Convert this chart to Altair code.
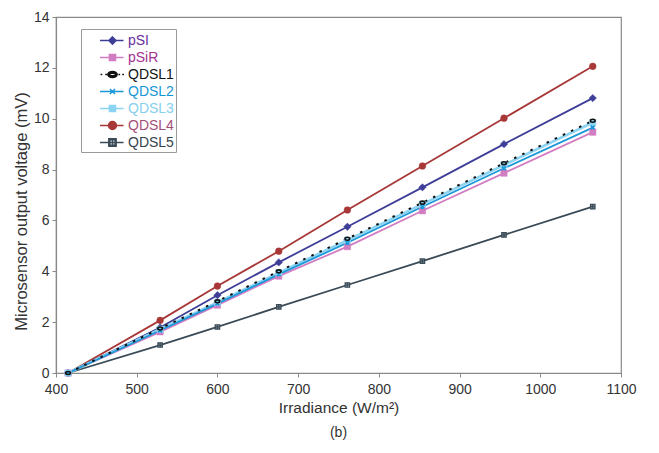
import altair as alt
import pandas as pd

irradiance = [415, 529, 600, 676, 761, 854, 955, 1065]
series_names = ["pSI", "pSiR", "QDSL1", "QDSL2", "QDSL3", "QDSL4", "QDSL5"]
pSI = [0, 1.79, 3.06, 4.35, 5.75, 7.30, 9.00, 10.81]
pSiR = [0, 1.62, 2.67, 3.81, 4.97, 6.38, 7.86, 9.47]
QDSL1 = [0, 1.75, 2.82, 4.00, 5.28, 6.70, 8.25, 9.92]
QDSL2 = [0, 1.67, 2.73, 3.88, 5.12, 6.54, 8.05, 9.65]
QDSL3 = [0, 1.72, 2.78, 3.95, 5.22, 6.64, 8.18, 9.85]
QDSL4 = [0, 2.07, 3.42, 4.79, 6.41, 8.14, 10.02, 12.06]
QDSL5 = [0, 1.10, 1.81, 2.60, 3.46, 4.40, 5.43, 6.54]

line_colors = ["#3E3E98", "#D27DC2", "#111111", "#1B98D8", "#8DD4F3", "#A83838", "#3A4A56"]
label_colors = ["#6A2E9C", "#A4308F", "#111111", "#1596D6", "#86CFF0", "#A34E79", "#34434E"]

values = [pSI, pSiR, QDSL1, QDSL2, QDSL3, QDSL4, QDSL5]
rows = []
for name, vals in zip(series_names, values):
    for xv, yv in zip(irradiance, vals):
        rows.append({"series": name, "irr": xv, "v": yv})
df = pd.DataFrame(rows)

FONT = "Liberation Sans"
xs = alt.Scale(domain=[400, 1100], nice=False)
ys = alt.Scale(domain=[0, 14], nice=False)
X = alt.X("irr:Q", scale=xs, title="Irradiance (W/m²)",
          axis=alt.Axis(values=list(range(400, 1101, 100)), format="d", labelFlush=False))
Y = alt.Y("v:Q", scale=ys, title="Microsensor output voltage (mV)",
          axis=alt.Axis(values=list(range(0, 15, 2)), format="d", labelFlush=False))

base = alt.Chart(df)

# chart marker shapes (unit space)
marker_shape = {
    "pSI": "diamond",
    "pSiR": "square",
    "QDSL1": "M-1,0A1,0.62,0,1,1,1,0A1,0.62,0,1,1,-1,0Z",
    "QDSL2": "M-1,-1L1,1M-1,1L1,-1M-0.6,0H0.6",
    "QDSL3": "square",
    "QDSL4": "circle",
    "QDSL5": "M-1,-1H1V1H-1ZM0,-1V1M-1,0H1",
}
marker_size = {"pSI": 55, "pSiR": 40, "QDSL1": 22, "QDSL2": 14, "QDSL3": 40, "QDSL4": 45, "QDSL5": 20}

draw_order = ["QDSL5", "QDSL4", "pSI", "pSiR", "QDSL3", "QDSL2", "QDSL1"]
layers = []
for name in draw_order:
    i = series_names.index(name)
    col = line_colors[i]
    sub = base.transform_filter(alt.datum.series == name)
    if name == "QDSL1":
        ln = sub.mark_line(color=col, strokeWidth=2, strokeDash=[2.5, 6.5]).encode(x=X, y=Y)
    elif name == "QDSL3":
        ln = sub.mark_line(color=col, strokeWidth=2.6).encode(x=X, y=Y)
    else:
        ln = sub.mark_line(color=col, strokeWidth=1.8).encode(x=X, y=Y)
    layers.append(ln)
for name in draw_order:
    i = series_names.index(name)
    col = line_colors[i]
    sub = base.transform_filter(alt.datum.series == name)
    if name == "QDSL1":
        pt = sub.mark_point(shape=marker_shape[name], size=marker_size[name], filled=False,
                            stroke=col, strokeWidth=1.6, opacity=1).encode(x=X, y=Y)
    elif name == "QDSL2":
        pt = sub.mark_point(shape=marker_shape[name], size=marker_size[name], filled=False,
                            stroke=col, strokeWidth=1.8, opacity=1).encode(x=X, y=Y)
    elif name == "QDSL5":
        pt = sub.mark_point(shape=marker_shape[name], size=marker_size[name], filled=True,
                            fill="#8E9DA6", stroke=col, strokeWidth=1.2, opacity=1).encode(x=X, y=Y)
    else:
        pt = sub.mark_point(shape=marker_shape[name], size=marker_size[name], filled=True,
                            fill=col, stroke=col, strokeWidth=0.5, opacity=1).encode(x=X, y=Y)
    layers.append(pt)

# legend symbols: line segment plus marker, in the legend symbol's unit space
LEG_SIZE = 289  # sqrt = 17 px -> 8.5 px per unit
L0, L1, MC = 0.88, 3.65, 2.35


def f(v):
    return f"{v:.3f}"


def rect(hw, hh, rev=False):
    a, b = MC - hw, MC + hw
    if not rev:
        return f"M{f(a)},{f(-hh)}H{f(b)}V{f(hh)}H{f(a)}Z"
    return f"M{f(a)},{f(-hh)}V{f(hh)}H{f(b)}V{f(-hh)}Z"


def ell(rx, ry, sweep=1):
    a, b = MC - rx, MC + rx
    return (f"M{f(a)},0A{f(rx)},{f(ry)},0,1,{sweep},{f(b)},0"
            f"A{f(rx)},{f(ry)},0,1,{sweep},{f(a)},0Z")


seg = f"M{f(L0)},0H{f(L1)}"
dots = "".join(f"M{f(d)},0H{f(d + 0.2)}" for d in [0.95, 1.5, 3.05, 3.5])
legend_paths = {
    "pSI": seg + f"M{f(MC)},-0.42L{f(MC + 0.42)},0L{f(MC)},0.42L{f(MC - 0.42)},0Z",
    "pSiR": seg + rect(0.36, 0.36),
    "QDSL1": dots + ell(0.55, 0.34, 1) + ell(0.36, 0.16, 0),
    "QDSL2": seg + f"M{f(MC - 0.3)},-0.3L{f(MC + 0.3)},0.3M{f(MC - 0.3)},0.3L{f(MC + 0.3)},-0.3",
    "QDSL3": seg + rect(0.36, 0.36),
    "QDSL4": seg + ell(0.47, 0.47, 1),
    "QDSL5": seg + rect(0.43, 0.43) + rect(0.31, 0.31, rev=True)
             + f"M{f(MC)},-0.43V0.43",
}
lab_expr = "".join(
    f"datum.value == '{n}' ? '{c}' : " for n, c in zip(series_names, label_colors)
) + "'#333333'"

leg = alt.Legend(title=None, orient="none", legendX=25, legendY=12,
                 labelColor=alt.ExprRef(lab_expr),
                 labelExpr="datum.label + '\u00a0\u00a0'")
legend_layer = base.transform_filter("false").mark_point(
    filled=True, size=LEG_SIZE, strokeWidth=1.5, opacity=1
).encode(
    x=X, y=Y,
    shape=alt.Shape("series:N", scale=alt.Scale(domain=series_names,
                    range=[legend_paths[n] for n in series_names]), legend=leg),
    fill=alt.Fill("series:N", scale=alt.Scale(domain=series_names, range=line_colors), legend=leg),
    stroke=alt.Stroke("series:N", scale=alt.Scale(domain=series_names, range=line_colors), legend=leg),
)
layers.append(legend_layer)

chart = alt.layer(*layers).properties(
    width=565, height=356,
    padding={"left": 5, "top": 2, "right": 5, "bottom": 5},
    title=alt.TitleParams("(b)", orient="bottom", fontSize=14, fontWeight="normal",
                          font=FONT, color="#333333", offset=10),
).configure_view(
    stroke="#8a8a8a", strokeWidth=1.2
).configure_axis(
    domainColor="#8a8a8a", domainWidth=1.2, tickColor="#8a8a8a", tickSize=4,
    grid=False, labelFont=FONT, labelFontSize=14, labelColor="#333333",
    titleFont=FONT, titleFontWeight="normal", titleColor="#333333",
    labelPadding=3,
).configure_axisY(
    titlePadding=4, titleFontSize=16.5, titleY=194,
).configure_axisX(
    titlePadding=4, labelPadding=5, titleFontSize=15.5,
).configure_legend(
    padding=2, strokeColor="#9a9a9a", fillColor="white", labelFont=FONT,
    labelFontSize=14, rowPadding=0, labelOffset=26, symbolSize=LEG_SIZE, cornerRadius=0,
)

chart.save("out.html", embed_options={"renderer": "svg", "actions": False})
